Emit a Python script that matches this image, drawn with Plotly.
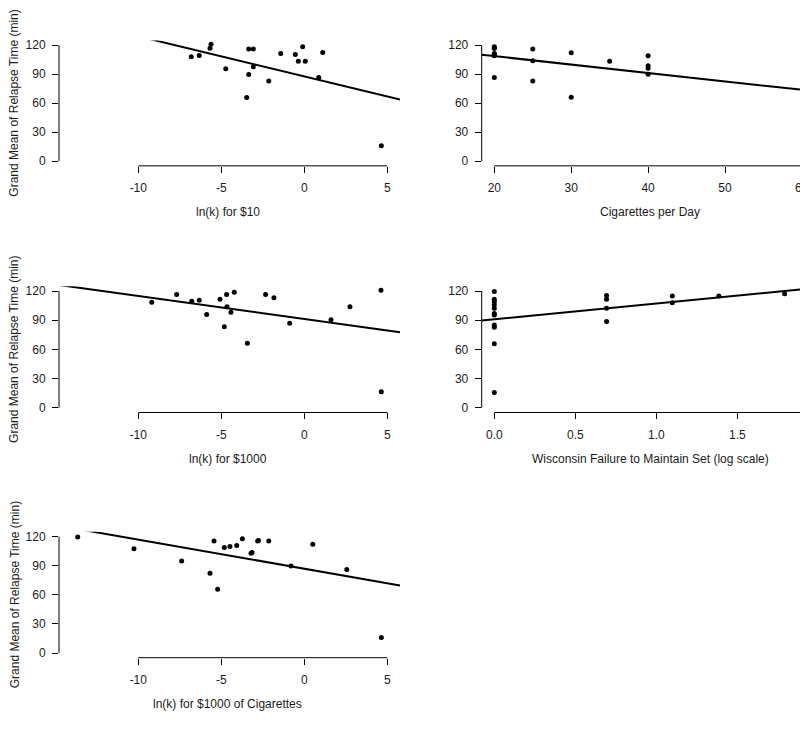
import plotly.graph_objects as go

# ---------------- data ----------------
y_title = "Grand Mean of Relapse Time (min)"
y_ticks = [0, 30, 60, 90, 120]

# Panel 1: ln(k) for $10
p1_title = "ln(k) for $10"
p1_x = [-6.81, -6.33, -5.62, -5.68, -4.73, -3.35, -3.07, -3.35, -3.07, -3.47,
        -2.14, -1.42, -0.54, -0.36, -0.10, 0.06, 0.87, 1.11, 4.64]
p1_y = [107.9, 109.2, 120.9, 116.8, 95.6, 116.1, 116.1, 89.7, 97.6, 65.8,
        82.8, 111.3, 110.3, 103.4, 118.2, 103.4, 86.6, 112.3, 16.0]
p1_xticks = [-10, -5, 0, 5]
p1_fit = (87.6, -4.15)  # intercept, slope

# Panel 2: Cigarettes per Day
p2_title = "Cigarettes per Day"
p2_x = [20, 20, 20, 20, 20, 20, 20, 25, 25, 25, 30, 30, 35, 40, 40, 40, 40, 60]
p2_y = [118.4, 117.2, 116.6, 111.3, 110.5, 109.1, 86.6, 116.0, 103.7, 82.8,
        112.2, 66.0, 103.3, 109.1, 98.6, 96.1, 90.0, 120.9]
p2_xticks = [20, 30, 40, 50, 60]
p2_fit = (126.0, -0.87)

# Panel 3: ln(k) for $1000
p3_title = "ln(k) for $1000"
p3_x = [-9.19, -7.69, -6.78, -6.33, -5.88, -5.08, -4.82, -4.68, -4.66, -4.42,
        -4.22, -3.43, -2.33, -1.83, -0.88, 1.61, 2.75, 4.62, 4.64]
p3_y = [108.5, 116.4, 109.6, 110.6, 95.9, 111.6, 83.2, 116.4, 103.8, 98.3,
        118.8, 66.4, 116.4, 113.0, 86.9, 90.4, 103.8, 120.9, 16.4]
p3_xticks = [-10, -5, 0, 5]
p3_fit = (91.3, -2.36)

# Panel 4: Wisconsin Failure to Maintain Set (log scale)
p4_title = "Wisconsin Failure to Maintain Set (log scale)"
p4_x = [0, 0, 0, 0, 0, 0, 0, 0, 0, 0, 0,
        0.693, 0.693, 0.693, 0.693, 1.099, 1.099, 1.386, 1.792]
p4_y = [119.4, 111.6, 108.9, 105.8, 102.4, 96.9, 95.3, 85.1, 82.7, 65.7, 15.7,
        115.3, 111.6, 102.4, 88.8, 115.0, 107.9, 115.0, 117.3]
p4_xticks = [0.0, 0.5, 1.0, 1.5, 2.0]
p4_xticklabels = ["0.0", "0.5", "1.0", "1.5", "2.0"]
p4_fit = (91.0, 16.2)

# Panel 5: ln(k) for $1000 of Cigarettes
p5_title = "ln(k) for $1000 of Cigarettes"
p5_x = [-13.65, -10.26, -7.39, -5.68, -5.44, -5.22, -4.82, -4.48, -4.07, -3.73,
        -3.21, -3.15, -2.81, -2.76, -2.14, -0.80, 0.51, 2.56, 4.64]
p5_y = [119.4, 107.4, 94.9, 82.1, 115.5, 65.6, 108.7, 109.7, 110.7, 117.6,
        102.9, 103.5, 115.5, 116.0, 115.5, 89.6, 112.0, 86.0, 15.9]
p5_xticks = [-10, -5, 0, 5]
p5_fit = (86.9, -2.99)

# ---------------- layout geometry (pixels of the 800x734 window) ----------------
W, H = 800, 734
FONT = "Liberation Sans, Arial, Helvetica, sans-serif"
TXT = "#1a1a1a"


def px_x(px):
    return px / W


def px_y(py):
    return 1 - py / H


# rows: window pixel of y=0 and y=120
rows = [(160.3, 43.4), (408.6, 291.0), (655.5, 538.2)]
left_col = dict(l=59.0, r=400.0)
right_col = dict(l=481.7, r=800.0)

panels = [
    dict(t=p1_title, x=p1_x, y=p1_y, ticks=p1_xticks, labels=None, fit=p1_fit,
         row=0, col=left_col, ref=(-10, 138.3), ppu=16.6, tcx=228),
    dict(t=p2_title, x=p2_x, y=p2_y, ticks=p2_xticks, labels=None, fit=p2_fit,
         row=0, col=right_col, ref=(20, 494.3), ppu=7.69, tcx=650),
    dict(t=p3_title, x=p3_x, y=p3_y, ticks=p3_xticks, labels=None, fit=p3_fit,
         row=1, col=left_col, ref=(-10, 138.3), ppu=16.6, tcx=228),
    dict(t=p4_title, x=p4_x, y=p4_y, ticks=p4_xticks, labels=p4_xticklabels, fit=p4_fit,
         row=1, col=right_col, ref=(0, 494.3), ppu=162.0, tcx=650),
    dict(t=p5_title, x=p5_x, y=p5_y, ticks=p5_xticks, labels=None, fit=p5_fit,
         row=2, col=left_col, ref=(-10, 138.3), ppu=16.6, tcx=228),
]

fig = go.Figure()
layout = dict(
    width=W, height=H, margin=dict(l=0, r=0, t=0, b=0),
    paper_bgcolor="white", plot_bgcolor="white", showlegend=False,
    font=dict(family=FONT, size=12, color=TXT),
)
shapes, annotations = [], []

for i, p in enumerate(panels):
    n = "" if i == 0 else str(i + 1)
    xa, ya = "x" + n, "y" + n
    y0px, y120px = rows[p["row"]]
    yppu = (y0px - y120px) / 120.0
    top_px = y120px - 4.8 * yppu
    bot_px = y0px + 4.8 * yppu
    lpx, rpx = p["col"]["l"], p["col"]["r"]
    rv, rpx_ref = p["ref"]
    xmin = rv + (lpx - rpx_ref) / p["ppu"]
    xmax = rv + (rpx - rpx_ref) / p["ppu"]

    layout["xaxis" + n] = dict(
        domain=[px_x(lpx), min(1.0, px_x(rpx))], range=[xmin, xmax], anchor=ya,
        showgrid=False, zeroline=False, showline=False,
        ticks="outside", ticklen=6, tickwidth=1, tickcolor="black",
        tickvals=p["ticks"],
        ticktext=p["labels"] if p["labels"] else [str(v) for v in p["ticks"]],
        tickfont=dict(family=FONT, size=12, color=TXT), ticklabelstandoff=5,
    )
    layout["yaxis" + n] = dict(
        domain=[px_y(bot_px), px_y(top_px)], range=[-4.8, 124.8], anchor=xa,
        showgrid=False, zeroline=False, showline=False,
        ticks="outside", ticklen=6, tickwidth=1, tickcolor="black",
        tickvals=y_ticks, tickfont=dict(family=FONT, size=12, color=TXT),
        ticklabelstandoff=4,
    )

    # regression line across the full axis range (clipped by the plot area)
    b0, b1 = p["fit"]
    lx = [xmin, xmax]
    fig.add_trace(go.Scatter(x=lx, y=[b0 + b1 * v for v in lx], xaxis=xa, yaxis=ya,
                             mode="lines", line=dict(color="black", width=2),
                             hoverinfo="skip"))
    fig.add_trace(go.Scatter(x=p["x"], y=p["y"], xaxis=xa, yaxis=ya, mode="markers",
                             marker=dict(color="black", size=5, symbol="circle"),
                             cliponaxis=False))

    # R-style detached axis lines
    visible_ticks = [v for v in p["ticks"] if xmin <= v <= xmax]
    shapes.append(dict(type="line", xref=xa, yref=ya + " domain",
                       x0=min(visible_ticks), x1=min(max(p["ticks"]), xmax), y0=0, y1=0,
                       line=dict(color="black", width=1)))
    shapes.append(dict(type="line", xref=xa + " domain", yref=ya,
                       x0=0, x1=0, y0=min(y_ticks), y1=max(y_ticks),
                       line=dict(color="black", width=1)))

    # x-axis title
    annotations.append(dict(text=p["t"], xref="paper", yref="paper",
                            x=px_x(p["tcx"]), y=px_y(bot_px + 46.5),
                            xanchor="center", yanchor="middle", showarrow=False,
                            font=dict(family=FONT, size=12, color=TXT)))
    # y-axis title on the left column only
    if p["col"] is left_col:
        annotations.append(dict(text=y_title, xref="paper", yref="paper",
                                x=px_x(14.5), y=px_y((top_px + bot_px) / 2),
                                xanchor="center", yanchor="middle", textangle=-90,
                                showarrow=False,
                                font=dict(family=FONT, size=12, color=TXT)))

# partly visible "60" tick label at the cropped right edge of panel 2
annotations.append(dict(text="60", xref="paper", yref="paper",
                        x=px_x(494.3 + 40 * 7.69), y=px_y(187.5),
                        xanchor="center", yanchor="middle", showarrow=False,
                        font=dict(family=FONT, size=12, color=TXT)))

layout["shapes"] = shapes
layout["annotations"] = annotations
fig.update_layout(**layout)
# remove the browser's default 8px body margin so the figure fills the window exactly
fig.write_html("out.html",
               config={"displayModeBar": False},
               post_script="document.body.style.margin='0';document.body.style.overflow='hidden';")
